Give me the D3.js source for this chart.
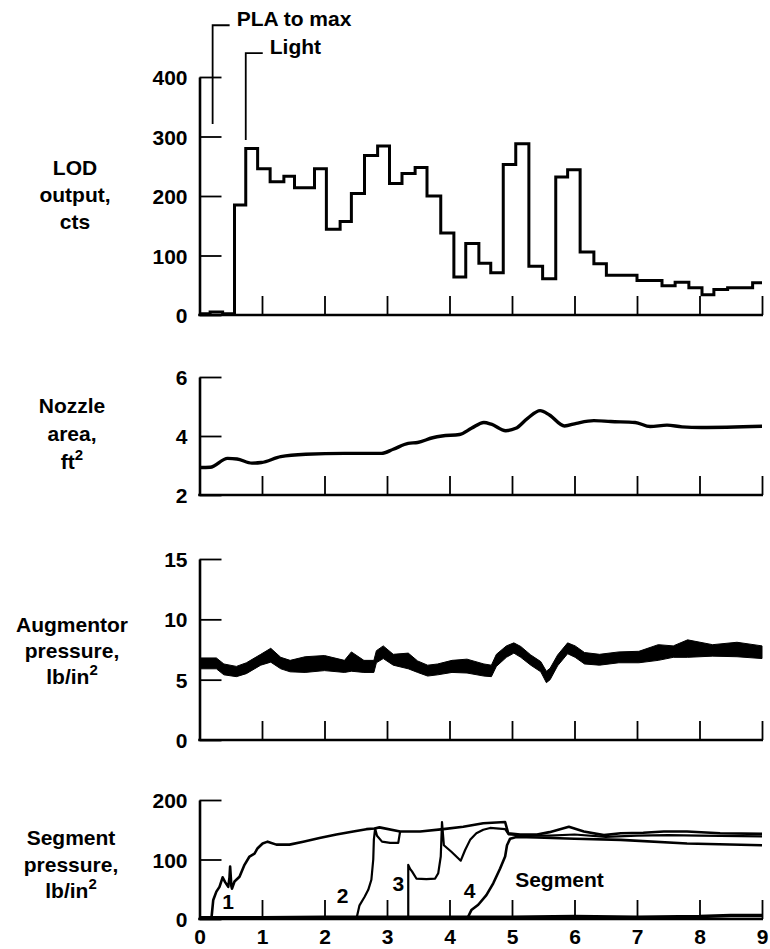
<!DOCTYPE html>
<html><head><meta charset="utf-8">
<script src="https://cdn.jsdelivr.net/npm/d3@7/dist/d3.min.js"></script>
<style>
body{margin:0;background:#fff}
text{font-family:"Liberation Sans",Arial,Helvetica,sans-serif;font-weight:bold;fill:#000}
</style>
</head><body>
<svg id="chart" width="770" height="949"></svg>
<script>
// ---------- DATA ----------
const timeTicks = [0,1,2,3,4,5,6,7,8,9];

// LOD output (counts) – step trace: [time, value] at each step start
const lodT = [0,0.17,0.37,0.56,0.74,0.93,1.13,1.35,1.52,1.84,2.03,2.25,2.43,2.64,2.85,3.04,3.24,3.45,3.64,3.86,4.07,4.26,4.47,4.66,4.86,5.06,5.27,5.49,5.70,5.89,6.09,6.31,6.51,7.00,7.40,7.61,7.83,8.04,8.23,8.45,8.85,9.0];
const lodV = [2,5,2,185,280,246,224,233,214,246,144,157,204,268,284,221,238,248,200,138,64,120,87,71,253,288,82,61,232,244,106,86,67,58,49,55,46,34,43,46,54,54];
const lodTicks = [0,100,200,300,400];

// Nozzle area (ft^2)
const nozT = [0,0.17,0.45,0.6,0.84,0.99,1.3,1.7,2.32,2.91,3.1,3.34,3.49,3.73,3.88,4.16,4.35,4.55,4.67,4.9,5.06,5.25,5.45,5.6,5.84,6.03,6.31,6.58,6.97,7.21,7.48,7.72,8.03,9.0];
const nozV = [2.93,2.94,3.24,3.22,3.08,3.1,3.3,3.38,3.41,3.41,3.55,3.75,3.78,3.94,4.0,4.05,4.26,4.46,4.4,4.18,4.26,4.6,4.86,4.71,4.34,4.43,4.52,4.49,4.46,4.32,4.37,4.31,4.29,4.33];
const nozTicks = [2,4,6];

// Augmentor pressure (lb/in^2) – noisy trace: centre and visible band edges
const augT  = [0,0.27,0.39,0.59,0.75,0.98,1.14,1.30,1.45,1.69,2.00,2.32,2.43,2.63,2.79,2.83,2.94,3.10,3.34,3.49,3.65,3.81,4.04,4.28,4.55,4.67,4.75,4.91,5.03,5.14,5.30,5.46,5.55,5.61,5.73,5.89,6.01,6.16,6.40,6.71,7.03,7.34,7.58,7.81,8.21,8.60,9.0];
const augV  = [6.35,6.35,5.8,5.66,5.94,6.63,6.9,6.35,6.08,6.08,6.2,6.08,6.2,6.08,6.1,6.9,7.18,6.63,6.35,6.08,5.74,5.85,6.08,6.0,5.8,5.74,6.63,7.3,7.6,7.3,6.63,6.08,5.25,5.5,6.63,7.6,7.3,6.77,6.63,6.85,6.85,7.04,7.3,7.3,7.4,7.35,7.26];
const augLo = [5.9,5.9,5.4,5.25,5.5,6.2,6.45,5.9,5.65,5.6,5.75,5.6,5.7,5.6,5.6,6.4,6.75,6.2,5.9,5.6,5.3,5.4,5.6,5.55,5.3,5.25,6.1,6.85,7.2,6.85,6.2,5.65,4.75,5.0,6.15,7.15,6.85,6.3,6.2,6.4,6.4,6.6,6.85,6.85,6.95,6.9,6.75];
const augHi = [6.8,6.8,6.3,6.1,6.4,7.1,7.6,6.85,6.6,6.9,7.0,6.6,7.3,6.6,6.6,7.4,7.8,7.1,7.2,6.55,6.2,6.3,6.6,6.7,6.3,6.2,7.1,7.8,8.05,7.75,7.05,6.5,5.7,5.95,7.05,8.05,7.8,7.25,7.1,7.3,7.35,7.9,7.8,8.3,7.9,8.1,7.8];
const augTicks = [0,5,10,15];

// Segment pressure (lb/in^2) – one trace per segment light-off
const segBaseT = [0,1,2,3,4,5,6,7,8,8.5,9];
const segBaseV = [2,2,3,3,3,3,4,3,4,6,6];
const seg1T = [0.19,0.22,0.27,0.32,0.37,0.41,0.46,0.48,0.49,0.51,0.52,0.56,0.64,0.72,0.80,0.88,0.93,1.01,1.09,1.23,1.44,1.66,1.92,2.19,2.46,2.67,2.80,2.88,3.21,3.53,3.90,4.22,4.54,4.89,4.94,5.13,5.40,5.60,5.91,6.15,6.47,6.74,7.10,7.43,7.80,8.33,9.0];
const seg1V = [0,32,46,54,70,62,54,70,88,55,51,63,71,91,105,110,119,127,130,125,125,130,136,142,147,151,152,154,147,147,151,155,161,163,144,142,142,146,155,147,141,144,145,147,147,144,143];
const seg2T = [2.51,2.56,2.64,2.70,2.75,2.78,2.79,2.81,2.84,2.92,3.05,3.18,3.21];
const seg2V = [0,23,37,49,66,100,134,152,140,130,128,128,147];
const seg3T = [3.34,3.34,3.37,3.40,3.47,3.63,3.77,3.82,3.86,3.88,3.91,4.03,4.18,4.25,4.33,4.43,4.54,4.65,4.89,4.95,5.2,5.6,6.0,6.5,7.0,7.5,8.0,9.0];
const seg3V = [0,91,84,80,68,67,68,77,105,163,124,113,98,116,133,144,150,153,151,142,140,140,142,138,140,141,140,139];
const seg4T = [4.28,4.35,4.46,4.59,4.70,4.81,4.89,4.92,4.97,5.07,5.40,6.00,6.74,7.80,9.0];
const seg4V = [0,15,24,40,60,85,105,124,135,138,137,135,133,127,124];
const segTicks = [0,100,200];
const segLabels = ["1","2","3","4","Segment"];
const segLabelT = [0.456,2.29,3.18,4.32,5.05];
const segLabelV = [17,27,47,35,54];

// Event annotations on the LOD panel
const eventNames = ["PLA to max","Light"];
const eventT = [0.21,0.74];
const eventFrom = [321,294];   // lower end of marker line (cts)
const eventTo = [487,440];     // upper end of marker line (cts)

// Panel titles
const lodTitle = ["LOD","output,","cts"];
const nozTitle = ["Nozzle","area,","ft|2"];
const augTitle = ["Augmentor","pressure,","lb/in|2"];
const segTitle = ["Segment","pressure,","lb/in|2"];

// ---------- DRAW ----------
const svg = d3.select("#chart");
const FS = 21;
const x = d3.scaleLinear().domain([0,9]).range([199.5,762]);

const panels = [
  {ticks:lodTicks, domain:[0,400], range:[315,77], title:lodTitle, tx:75, ty:175, gap:27, labels:false},
  {ticks:nozTicks, domain:[2,6], range:[495,377], title:nozTitle, tx:72, ty:413, gap:28, labels:false},
  {ticks:augTicks, domain:[0,15], range:[740,559], title:augTitle, tx:72, ty:632, gap:26, labels:false},
  {ticks:segTicks, domain:[0,200], range:[919,800], title:segTitle, tx:71, ty:845, gap:26.5, labels:true}
];
panels.forEach(p => { p.y = d3.scaleLinear().domain(p.domain).range(p.range); });

function styleAxis(g){
  g.select(".domain").attr("stroke","#000").attr("stroke-width",2.6);
  g.selectAll(".tick line").attr("stroke","#000").attr("stroke-width",1.8);
  g.selectAll(".tick text").attr("font-size",FS).attr("font-family",'"Liberation Sans",Arial,sans-serif').attr("font-weight","bold").attr("fill","#000");
  g.attr("font-size",null).attr("font-family",null);
}

panels.forEach(p => {
  // left axis with inward ticks
  const gl = svg.append("g").attr("transform",`translate(${x(0)},0)`)
    .call(d3.axisLeft(p.y).tickValues(p.ticks).tickSize(-22).tickSizeOuter(0).tickPadding(12).tickFormat(d3.format("d")));
  styleAxis(gl);
  gl.selectAll(".tick text").attr("dy","0.36em");
  // bottom axis with inward (upward) ticks
  const gb = svg.append("g").attr("transform",`translate(0,${p.range[0]})`)
    .call(d3.axisBottom(x).tickValues(p.labels ? timeTicks : timeTicks.slice(1)).tickSize(-19).tickSizeOuter(0).tickPadding(10)
      .tickFormat(p.labels ? d3.format("d") : () => ""));
  styleAxis(gb);
  gb.selectAll(".tick text").attr("dy","0.72em");
  gb.select(".domain").attr("d",`M${x(0)-1.3},0H${x(9)+1}`);
  gb.selectAll(".tick").filter(d => d===0).select("line").remove();
  // title
  const t = svg.append("text").attr("text-anchor","middle").attr("font-size",FS);
  p.title.forEach((line,i) => {
    const parts = line.split("|");
    t.append("tspan").attr("x",p.tx).attr("y",p.ty + i*p.gap).text(parts[0]);
    if (parts[1]) t.append("tspan").attr("font-size",15).attr("dy",-9).text(parts[1]);
  });
});

const [pLod,pNoz,pAug,pSeg] = panels;

// LOD step trace
const lodData = lodT.map((t,i)=>[t,lodV[i]]);
svg.append("path").datum(lodData)
  .attr("d", d3.line().x(d=>x(d[0])).y(d=>pLod.y(d[1])).curve(d3.curveStepAfter))
  .attr("fill","none").attr("stroke","#000").attr("stroke-width",3).attr("stroke-linejoin","miter");

// event markers
eventNames.forEach((name,i) => {
  const xx = x(eventT[i]), y1 = pLod.y(eventFrom[i]), y2 = pLod.y(eventTo[i]);
  svg.append("path").attr("d",`M${xx},${y1}V${y2}H${xx+17}`)
    .attr("fill","none").attr("stroke","#000").attr("stroke-width",1.8);
  svg.append("text").attr("x",xx+24).attr("y",y2+1).attr("font-size",FS).text(name);
});

// Nozzle area
const nozData = nozT.map((t,i)=>[t,nozV[i]]);
svg.append("path").datum(nozData)
  .attr("d", d3.line().x(d=>x(d[0])).y(d=>pNoz.y(d[1])).curve(d3.curveMonotoneX))
  .attr("fill","none").attr("stroke","#000").attr("stroke-width",3.4);

// Augmentor pressure: noisy band
const augData = augT.map((t,i)=>({t, v:augV[i], lo:augLo[i], hi:augHi[i]}));
svg.append("path").datum(augData)
  .attr("d", d3.area().x(d=>x(d.t)).y0(d=>pAug.y(d.lo)).y1(d=>pAug.y(d.hi)).curve(d3.curveLinear))
  .attr("fill","#000").attr("stroke","#000").attr("stroke-width",1);

// Segment pressure traces
const segLine = d3.line().x(d=>x(d[0])).y(d=>pSeg.y(d[1]));
function segTrace(T,V,w){
  svg.append("path").datum(T.map((t,i)=>[t,V[i]]))
    .attr("d",segLine).attr("fill","none").attr("stroke","#000").attr("stroke-width",w).attr("stroke-linejoin","round");
}
segTrace(segBaseT,segBaseV,3.5);
segTrace(seg1T,seg1V,2.6);
segTrace(seg2T,seg2V,2.2);
segTrace(seg3T,seg3V,2.2);
segTrace(seg4T,seg4V,2.6);
segLabels.forEach((s,i) => {
  svg.append("text").attr("x",x(segLabelT[i])).attr("y",pSeg.y(segLabelV[i]))
    .attr("text-anchor", i<4 ? "middle" : "start").attr("font-size",FS).text(s);
});
</script>
</body></html>
